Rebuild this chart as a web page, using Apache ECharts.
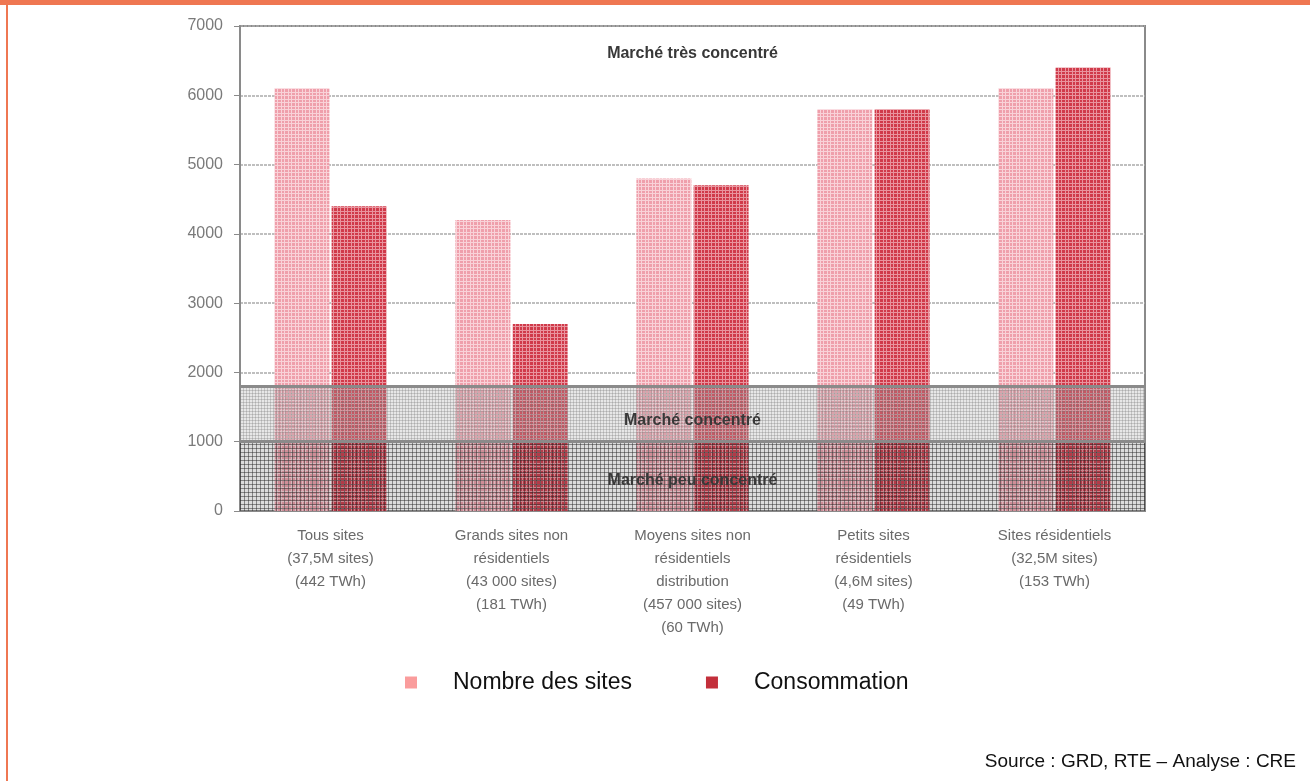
<!DOCTYPE html>
<html><head><meta charset="utf-8">
<script src="https://cdn.jsdelivr.net/npm/echarts@6/dist/echarts.min.js"></script>
<style>html,body{margin:0;padding:0;background:#fff}#c{width:1310px;height:781px}</style>
</head><body><div id="c"></div>
<script>
var categories = [
  'Tous sites\n(37,5M sites)\n(442 TWh)',
  'Grands sites non\nrésidentiels\n(43 000 sites)\n(181 TWh)',
  'Moyens sites non\nrésidentiels\ndistribution\n(457 000 sites)\n(60 TWh)',
  'Petits sites\nrésidentiels\n(4,6M sites)\n(49 TWh)',
  'Sites résidentiels\n(32,5M sites)\n(153 TWh)'
];
var seriesNames = ['Nombre des sites', 'Consommation'];
var nombreSites = [6100, 4200, 4800, 5800, 6100];
var consommation = [4400, 2700, 4700, 5800, 6400];
var bandBounds = [0, 1000, 1800, 7000];
var bandLabels = ['Marché peu concentré', 'Marché concentré', 'Marché très concentré'];
var yTicks = {min: 0, max: 7000, interval: 1000};

function pattern(size, base, line, pos) {
  var c = document.createElement('canvas');
  c.width = size; c.height = size;
  var g = c.getContext('2d');
  g.fillStyle = base; g.fillRect(0, 0, size, size);
  g.fillStyle = line;
  pos.forEach(function (p) { g.fillRect(p, 0, 1, size); g.fillRect(0, p, size, 1); });
  return {image: c, repeat: 'repeat'};
}
var pNombre = pattern(7, '#ef9fab', '#f9d2d8', [1, 4]);
var pConso = pattern(7, '#d03a4a', '#e9949e', [1, 4]);
var pDark = pattern(4, 'rgba(60,60,60,0.18)', 'rgba(40,40,40,0.48)', [0]);
var pLight = pattern(3, 'rgba(170,170,170,0.28)', 'rgba(120,120,120,0.3)', [0]);

var chart = echarts.init(document.getElementById('c'));
var font = 'Liberation Sans, Arial, sans-serif';
chart.setOption({
  animation: false,
  textStyle: {fontFamily: font},
  grid: {left: 240, top: 26, width: 905, height: 485, show: true, borderColor: '#8a8a8a', borderWidth: 2, backgroundColor: 'transparent'},
  legend: {
    left: 400, top: 666, itemWidth: 12, itemHeight: 12, itemGap: 74, icon: 'rect',
    textStyle: {fontSize: 23, color: '#111', padding: [0, 0, 0, 31], fontFamily: font},
    data: [
      {name: seriesNames[0], itemStyle: {color: '#fa9c9c'}},
      {name: seriesNames[1], itemStyle: {color: '#c32f3b'}}
    ]
  },
  xAxis: {
    type: 'category', data: categories,
    axisLine: {lineStyle: {color: '#8a8a8a', width: 2}},
    axisTick: {length: 7, lineStyle: {color: '#8a8a8a', width: 1.5}},
    axisLabel: {fontSize: 15, color: '#6a6a6a', lineHeight: 23, margin: 13, interval: 0}
  },
  yAxis: {
    type: 'value', min: yTicks.min, max: yTicks.max, interval: yTicks.interval,
    axisLine: {show: true, lineStyle: {color: '#8a8a8a', width: 2}},
    axisTick: {show: true, length: 6, lineStyle: {color: '#8a8a8a'}},
    axisLabel: {fontSize: 16, color: '#7a7a7a', margin: 17, formatter: function (v) { return String(v); }},
    splitLine: {lineStyle: {color: '#aaa', type: [3, 1], width: 1.5}}
  },
  series: [
    {name: seriesNames[0], type: 'bar', data: nombreSites, barWidth: 55, barGap: '4%', itemStyle: {color: pNombre}},
    {name: seriesNames[1], type: 'bar', data: consommation, barWidth: 55, itemStyle: {color: pConso}},
    {
      name: 'bands', type: 'line', data: [], z: 5, silent: true,
      markArea: {
        z: 5, silent: true,
        data: [
          [{yAxis: bandBounds[0], itemStyle: {color: pDark}, label: {show: true, position: 'inside', offset: [0, 4], formatter: bandLabels[0]}}, {yAxis: bandBounds[1]}],
          [{yAxis: bandBounds[1], itemStyle: {color: pLight}, label: {show: true, position: 'inside', offset: [0, 7], formatter: bandLabels[1]}}, {yAxis: bandBounds[2]}],
          [{yAxis: bandBounds[2], itemStyle: {color: 'rgba(0,0,0,0)'}, label: {show: true, position: 'insideTop', distance: 20, formatter: bandLabels[2]}}, {yAxis: bandBounds[3]}]
        ],
        label: {fontSize: 16, fontWeight: 'bold', color: '#383838', fontFamily: font}
      },
      markLine: {
        z: 6, silent: true, symbol: 'none', label: {show: false},
        lineStyle: {color: '#8a8a8a', width: 3, type: 'solid'},
        data: [{yAxis: bandBounds[1]}, {yAxis: bandBounds[2]}]
      }
    }
  ],
  graphic: [
    {type: 'rect', left: 0, top: 0, shape: {width: 1310, height: 5}, style: {fill: '#ef7752'}, z: 100},
    {type: 'rect', left: 6, top: 0, shape: {width: 2, height: 781}, style: {fill: '#ef7752'}, z: 100},
    {type: 'text', right: 14, top: 752, style: {text: 'Source : GRD, RTE – Analyse : CRE', fontSize: 19, fill: '#111', fontFamily: font}, z: 100}
  ]
});
</script></body></html>
